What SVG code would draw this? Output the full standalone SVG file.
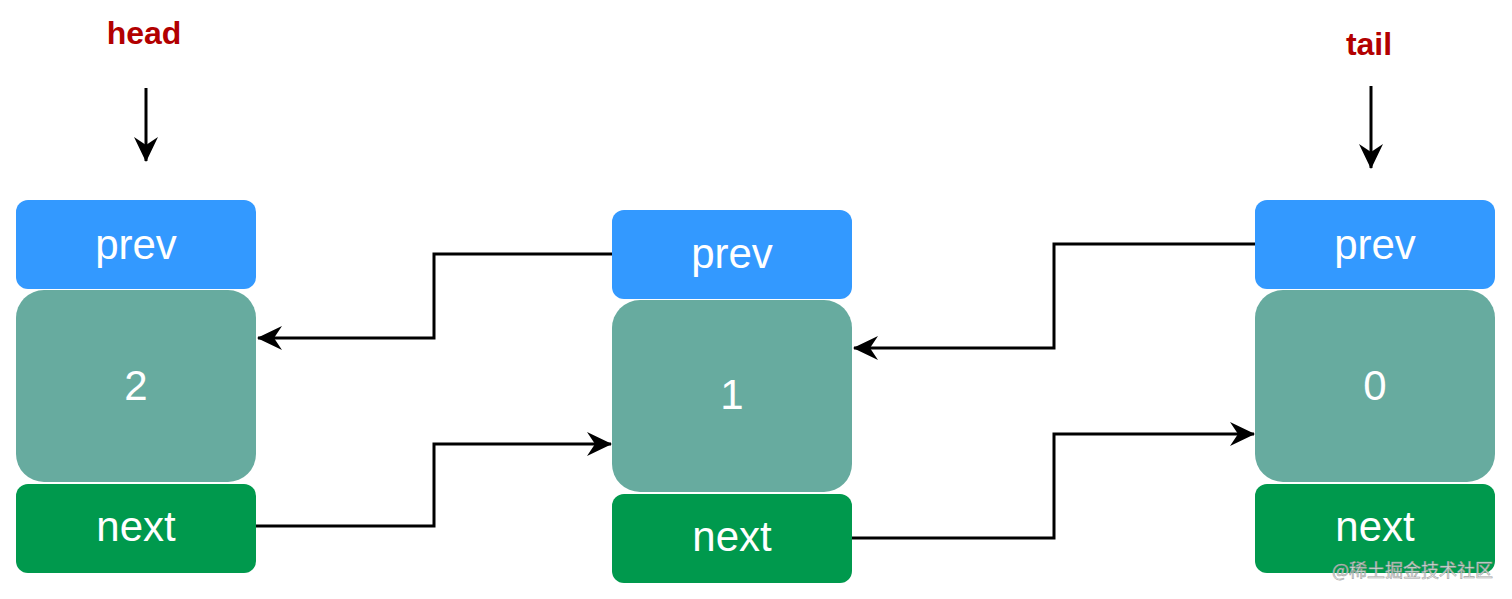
<svg xmlns="http://www.w3.org/2000/svg" width="1512" height="599" viewBox="0 0 1512 599">
<style>
.prev{fill:#3399FF}
.val{fill:#67AB9F}
.next{fill:#00994D}
.t{font-family:"Liberation Sans",Arial,sans-serif;font-size:42px;fill:#ffffff;text-anchor:middle}
.lbl{font-family:"Liberation Sans",Arial,sans-serif;font-size:32px;font-weight:bold;fill:#B20000;text-anchor:middle}
.c{fill:none;stroke:#000000;stroke-width:3}
.wm{font-family:"Noto Sans CJK SC","Liberation Sans",sans-serif;font-size:18px;fill:#e6e6e6;stroke:#9a9a9a;stroke-width:0.6;opacity:0.9}
</style>
<defs>
<marker id="arr" markerUnits="userSpaceOnUse" markerWidth="28" markerHeight="28" viewBox="-26 -14 28 28" refX="0" refY="0" orient="auto">
<path d="M1,0 L-24,-12 L-16,0 L-24,12 Z" fill="#000000"/>
</marker>
</defs>
<rect width="1512" height="599" fill="#ffffff"/>
<g id="head-label">
<text class="lbl" x="144" y="44">head</text>
</g>
<g id="tail-label">
<text class="lbl" x="1369" y="55">tail</text>
</g>
<g id="node2">
<rect class="prev" x="16" y="200" width="240" height="89" rx="12"/>
<text class="t" x="136" y="259">prev</text>
<rect class="val" x="16" y="290" width="240" height="192" rx="28"/>
<text class="t" x="136" y="400">2</text>
<rect class="next" x="16" y="484" width="240" height="89" rx="12"/>
<text class="t" x="136" y="541">next</text>
</g>
<g id="node1">
<rect class="prev" x="612" y="210" width="240" height="89" rx="12"/>
<text class="t" x="732" y="268">prev</text>
<rect class="val" x="612" y="300" width="240" height="192" rx="28"/>
<text class="t" x="732" y="409">1</text>
<rect class="next" x="612" y="494" width="240" height="89" rx="12"/>
<text class="t" x="732" y="551">next</text>
</g>
<g id="node0">
<rect class="prev" x="1255" y="200" width="240" height="89" rx="12"/>
<text class="t" x="1375" y="259">prev</text>
<rect class="val" x="1255" y="290" width="240" height="192" rx="28"/>
<text class="t" x="1375" y="400">0</text>
<rect class="next" x="1255" y="484" width="240" height="89" rx="12"/>
<text class="t" x="1375" y="541">next</text>
</g>
<g id="connectors">
<path class="c" d="M146,88 L146,161" marker-end="url(#arr)"/>
<path class="c" d="M1371,86 L1371,168" marker-end="url(#arr)"/>
<path class="c" d="M612,254 L434,254 L434,338 L258,338" marker-end="url(#arr)"/>
<path class="c" d="M256,526 L434,526 L434,444 L611,444" marker-end="url(#arr)"/>
<path class="c" d="M1255,244 L1054,244 L1054,348 L854,348" marker-end="url(#arr)"/>
<path class="c" d="M852,538 L1054,538 L1054,434 L1254,434" marker-end="url(#arr)"/>
</g>
<text class="wm" x="1332" y="577">@稀土掘金技术社区</text>
</svg>
